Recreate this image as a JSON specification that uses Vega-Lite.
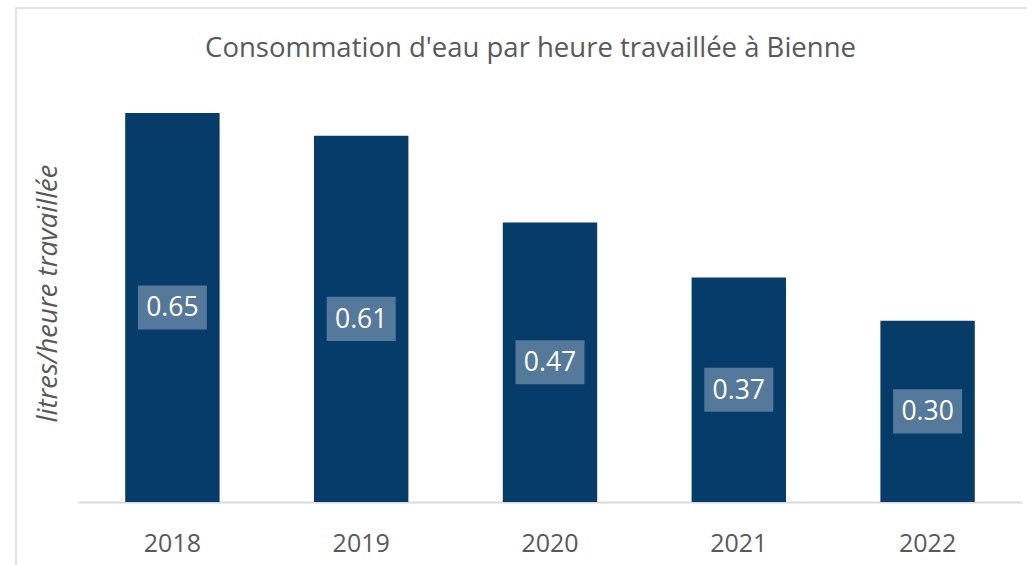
{
  "$schema": "https://vega.github.io/schema/vega-lite/v6.json",
  "autosize": "none",
  "width": 1011,
  "height": 557,
  "padding": {"left": 16, "top": 8, "right": 0, "bottom": 0},
  "background": "white",
  "config": {
    "view": {"stroke": "#d9d9d9", "strokeWidth": 1.5, "strokeDash": [1011, 1568, 557]},
    "font": "Open Sans"
  },
  "title": {
    "text": "Consommation d'eau par heure travaillée à Bienne",
    "anchor": "middle",
    "frame": "group",
    "orient": "top",
    "offset": -76,
    "baseline": "alphabetic",
    "dx": 9,
    "font": "Open Sans",
    "fontSize": 27.5,
    "fontWeight": "normal",
    "color": "#595959"
  },
  "data": {
    "values": [
      {"year": "2018", "value": 0.65, "label": "0.65"},
      {"year": "2019", "value": 0.612, "label": "0.61"},
      {"year": "2020", "value": 0.467, "label": "0.47"},
      {"year": "2021", "value": 0.375, "label": "0.37"},
      {"year": "2022", "value": 0.303, "label": "0.30"}
    ]
  },
  "transform": [{"calculate": "datum.value / 2", "as": "mid"}],
  "encoding": {
    "x": {
      "field": "year",
      "type": "ordinal",
      "scale": {"range": [62, 1006], "paddingInner": 0.5, "paddingOuter": 0.25},
      "axis": {
        "title": null,
        "orient": "bottom",
        "offset": -63,
        "domainColor": "#d9d9d9",
        "domainWidth": 2,
        "ticks": false,
        "tickSize": 0,
        "labelAngle": 0,
        "labelFont": "Open Sans",
        "labelFontSize": 25,
        "labelColor": "#595959",
        "labelBaseline": "middle",
        "labelPadding": 41
      }
    }
  },
  "layer": [
    {
      "mark": {"type": "bar", "color": "#063c6a"},
      "encoding": {
        "y": {
          "field": "value",
          "type": "quantitative",
          "scale": {"domain": [0, 0.7], "range": [494, 75], "nice": false},
          "axis": {
            "title": "litres/heure travaillée",
            "orient": "left",
            "domain": false,
            "ticks": false,
            "labels": false,
            "grid": false,
            "titleFont": "Open Sans",
            "titleFontSize": 27.5,
            "titleFontStyle": "italic",
            "titleFontWeight": "normal",
            "titleColor": "#595959",
            "titleAngle": -90,
            "titleX": 32,
            "titleY": 285,
            "titleAlign": "center",
            "titleBaseline": "middle"
          }
        }
      }
    },
    {
      "mark": {
        "type": "point",
        "shape": "M-1,-0.64L1,-0.64L1,0.64L-1,0.64Z",
        "filled": true,
        "size": 4761,
        "color": "#55799b",
        "opacity": 1
      },
      "encoding": {
        "y": {"field": "mid", "type": "quantitative"}
      }
    },
    {
      "mark": {
        "type": "text",
        "color": "white",
        "font": "Open Sans",
        "fontSize": 26.5,
        "baseline": "middle",
        "dy": 1
      },
      "encoding": {
        "y": {"field": "mid", "type": "quantitative"},
        "text": {"field": "label"}
      }
    }
  ]
}
